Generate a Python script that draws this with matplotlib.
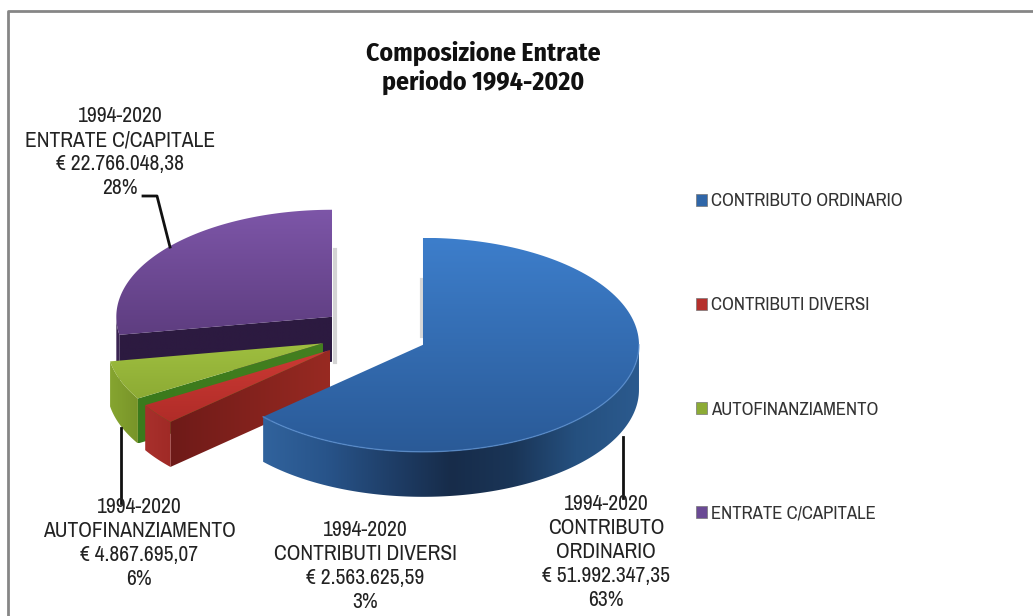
import numpy as np
import matplotlib
matplotlib.use('Agg')
import matplotlib.pyplot as plt
from matplotlib.colors import LinearSegmentedColormap
from matplotlib.patches import Patch, Polygon

plt.rcParams['font.family'] = ['Archivo Narrow', 'Roboto Condensed', 'Liberation Sans', 'DejaVu Sans']

# data
categories = ['CONTRIBUTO ORDINARIO', 'CONTRIBUTI DIVERSI', 'AUTOFINANZIAMENTO', 'ENTRATE C/CAPITALE']
values = [51992347.35, 2563625.59, 4867695.07, 22766048.38]
amounts = ['€ 51.992.347,35', '€ 2.563.625,59', '€ 4.867.695,07', '€ 22.766.048,38']
percents = ['63%', '3%', '6%', '28%']
period = '1994-2020'

# pie geometry, in pixels of the figure
cx, cy = 373.6, 334
rx, ry = 216, 107
thick = 45
explode = 0.25

top_colors = [('#3d7ecb', '#2a5a97'), ('#cc3a34', '#b02c28'), ('#9fbf40', '#8dab34'), ('#7d56a8', '#5e3d80')]
rim_colors = [['#31639d', '#28548a', '#1f3f69', '#172c4a', '#1a3557', '#25507f', '#2b5a8e'],
              ['#a8302c', '#a02a26'], ['#86a530', '#789429'], ['#3a2452', '#3a2452']]
cut_colors = [('#1d3f6b', '#1d3f6b'), ('#6e1a18', '#982a22'), ('#3a7a1c', '#447f20'), ('#2c1a40', '#2c1a40')]
legend_colors = ['#2f66a8', '#b5302c', '#8cab35', '#6a4a94']

fig = plt.figure(figsize=(10.33, 6.16), dpi=100)
ax = fig.add_axes([0, 0, 1, 1])


def gradient_fill(pts, colors, horizontal=False):
    # image of the colour ramp, clipped to the polygon
    pts = np.array(pts)
    cmap = LinearSegmentedColormap.from_list('g', colors)
    ramp = np.linspace(0, 1, 256)
    ramp = ramp.reshape(1, -1) if horizontal else ramp.reshape(-1, 1)
    im = ax.imshow(ramp, cmap=cmap, aspect='auto', interpolation='bilinear',
                   extent=(pts[:, 0].min(), pts[:, 0].max(), pts[:, 1].max(), pts[:, 1].min()), zorder=2)
    poly = Polygon(pts, closed=True, transform=ax.transData)
    im.set_clip_path(poly)


def arc(x0, y0, a1, a2):
    t = np.radians(np.linspace(a1, a2, 150))
    return np.column_stack([x0 + rx * np.cos(t), y0 - ry * np.sin(t)])


fracs = np.array(values) / sum(values)
ends = 90 - 360 * np.cumsum(fracs)
starts = np.r_[90, ends[:-1]]

# shadows next to the straight edges
ax.plot([335, 335], [250, 362], color='#d4d4d4', lw=3, zorder=1)
ax.plot([422, 422], [280, 336], color='#d8d8d8', lw=3, zorder=1)

# far slices first, so the order is purple, green, red, blue
for i in [3, 2, 1, 0]:
    a1, a2 = starts[i], ends[i]
    mid = np.radians((a1 + a2) / 2)
    x0 = cx + explode * rx * np.cos(mid)
    y0 = cy - explode * ry * np.sin(mid)
    start_pt = arc(x0, y0, a1, a1)[0]

    # the cut side that looks to the viewer
    if i > 0:
        cut = [(x0, y0), start_pt, start_pt + [0, thick], (x0, y0 + thick)]
        gradient_fill(cut, cut_colors[i], horizontal=True)

    hi, lo = min(a1, 0), max(a2, -180)
    if hi > lo:
        edge = arc(x0, y0, hi, lo)
        rim = np.vstack([edge, edge[::-1] + [0, thick]])
        gradient_fill(rim, rim_colors[i], horizontal=True)

    face = np.vstack([[(x0, y0)], arc(x0, y0, a1, a2)])
    gradient_fill(face, top_colors[i])
    if i == 0:
        ax.plot(edge[:, 0], edge[:, 1], color='#5a90d2', lw=1, alpha=0.7, zorder=3)

# leader lines
ax.plot([143, 157, 170], [196, 196, 247], color='#111111', lw=2, zorder=4)
ax.plot([121, 121], [428, 503], color='#111111', lw=2, zorder=4)
ax.plot([623, 623], [437, 498], color='#111111', lw=2, zorder=4)

# labels
label_font = dict(fontsize=15.5, color='#222222', ha='center', va='center', linespacing=1.24, zorder=5)
ax.text(606, 552, period + '\nCONTRIBUTO\nORDINARIO\n' + amounts[0] + '\n' + percents[0], **label_font)
ax.text(365, 566, period + '\n' + categories[1] + '\n' + amounts[1] + '\n' + percents[1], **label_font)
ax.text(139, 543, period + '\n' + categories[2] + '\n' + amounts[2] + '\n' + percents[2], **label_font)
ax.text(120, 152, period + '\n' + categories[3] + '\n' + amounts[3] + '\n' + percents[3], **label_font)

ax.text(483, 68, 'Composizione Entrate\nperiodo 1994-2020', fontsize=18.5, fontweight='bold', color='#111111',
        family=['Fira Sans Condensed', 'Liberation Sans'], ha='center', va='center', linespacing=1.2, zorder=5)

handles = [Patch(facecolor=c, edgecolor='#777777', linewidth=0.5) for c in legend_colors]
ax.legend(handles, categories, loc='center left', bbox_to_anchor=(0.674, 0.4196), frameon=False,
          fontsize=13.5, labelcolor='#333333', handlelength=0.6, handleheight=0.6, handletextpad=0.2,
          labelspacing=4.70, borderpad=0, borderaxespad=0)

ax.set_xlim(0, 1033)
ax.set_ylim(616, 0)
ax.axis('off')

# chart frame, open at the right and at the bottom
ax.plot([8, 8, 1033], [616, 11, 11], color='#868686', lw=2, zorder=6, clip_on=False)

fig.savefig('out.png', dpi=100)
